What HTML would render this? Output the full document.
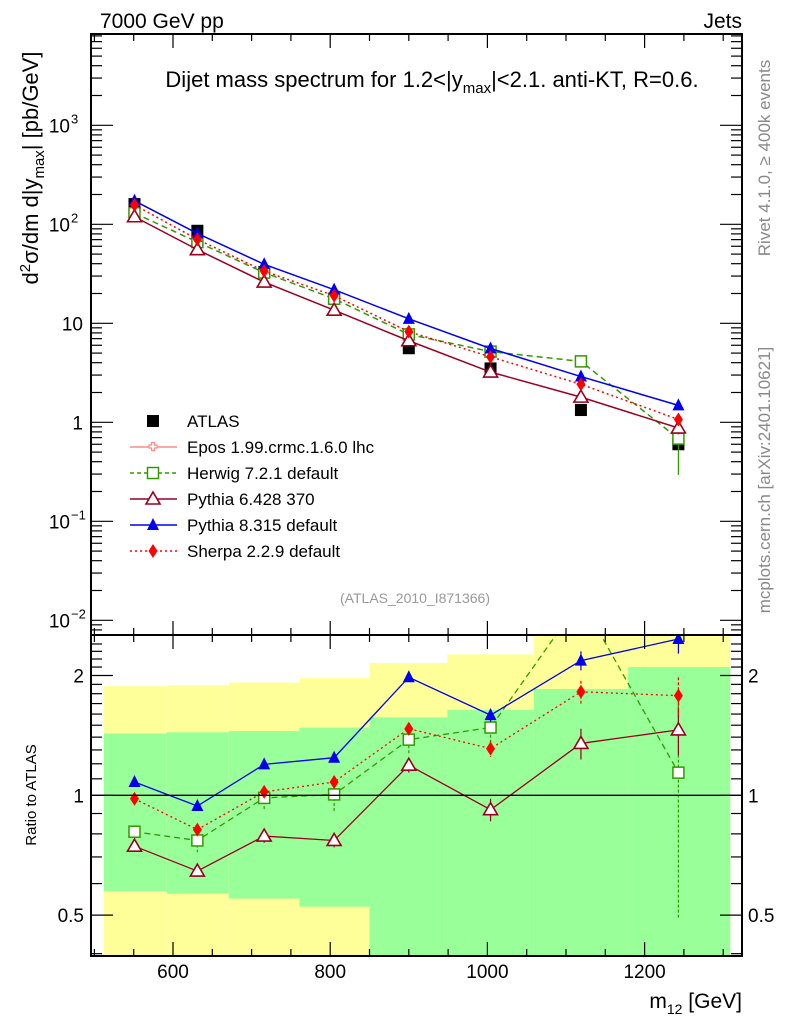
<!DOCTYPE html>
<html><head><meta charset="utf-8"><style>
html,body{margin:0;padding:0;background:#fff}
svg{display:block;font-family:"Liberation Sans",sans-serif}
</style></head><body>
<svg id="c" width="786" height="1024" viewBox="0 0 786 1024" xmlns="http://www.w3.org/2000/svg">
<text x="100" y="28" font-size="21">7000 GeV pp</text>
<text x="742" y="28" font-size="21" text-anchor="end">Jets</text>
<text x="432" y="87" font-size="22" text-anchor="middle">Dijet mass spectrum for 1.2&lt;|y<tspan font-size="15" dy="6">max</tspan><tspan dy="-6">|&lt;2.1.  anti-KT, R=0.6.</tspan></text>
<text transform="translate(38,168) rotate(-90)" font-size="22" text-anchor="middle">d<tspan font-size="15" dy="-8">2</tspan><tspan dy="8">σ/dm d|y</tspan><tspan font-size="15" dy="6">max</tspan><tspan dy="-6">| [pb/GeV]</tspan></text>
<text transform="translate(770,158) rotate(-90)" font-size="17" fill="#888" text-anchor="middle">Rivet 4.1.0, ≥ 400k events</text>
<text transform="translate(770,480) rotate(-90)" font-size="17" fill="#888" text-anchor="middle">mcplots.cern.ch [arXiv:2401.10621]</text>
<text x="415" y="603" font-size="14" fill="#999" text-anchor="middle">(ATLAS_2010_I871366)</text>
<text transform="translate(36,795) rotate(-90)" font-size="15" text-anchor="middle">Ratio to ATLAS</text>
<text x="742" y="1008" font-size="21" text-anchor="end">m<tspan font-size="14" dy="6">12</tspan><tspan dy="-6"> [GeV]</tspan></text>
<g id="bands"></g><g id="grid"></g><g id="series"></g><g id="axes"></g><g id="legend"></g>
</svg>
<script>
const masses=[551,631,716,805,900,1004,1119,1243];
const binEdges=[512,592,671,761,850,949,1059,1179,1309];
const atlas=[160,86,33,17.6,5.6,3.5,1.33,0.60];
const ratioHerwig=[0.81,0.77,0.985,1.005,1.38,1.48,3.1,1.14];
const ratioPythia6=[0.745,0.645,0.79,0.77,1.19,0.92,1.35,1.46];
const ratioPythia8=[1.08,0.94,1.196,1.243,1.98,1.59,2.18,2.47];
const ratioSherpa=[0.98,0.82,1.02,1.08,1.47,1.31,1.82,1.78];
const errHerwig=[0.03,0.05,0.07,0.1,0.12,0.16,0.4,0.65];
const errOther=[0.02,0.02,0.03,0.03,0.05,0.06,0.12,0.2];
const greenHi=[1.43,1.44,1.45,1.48,1.57,1.64,1.85,2.1];
const greenLo=[0.574,0.566,0.55,0.525,0.3,0.3,0.3,0.3];
const yellowHi=[1.88,1.89,1.92,1.97,2.15,2.26,3,3];
const yellowLo=[0.3,0.3,0.3,0.3,0.43,0.3,0.3,0.3];
const xTicks=[600,800,1000,1200];
const ratioTicks=[0.5,1,2];

const NS="http://www.w3.org/2000/svg";
const L=91,R=742,T=34,MB=635,RB=956;
const X=m=>173+(m-600)*0.786;
const Y=v=>422.3-99*Math.log10(v);
const RY=r=>795.3-398*Math.log10(r);
function mk(p,tag,a){const e=document.createElementNS(NS,tag);for(const k in a)e.setAttribute(k,a[k]);p.appendChild(e);return e;}
const gB=document.getElementById('bands'),gS=document.getElementById('series'),gA=document.getElementById('axes'),gL=document.getElementById('legend');
const clampR=r=>Math.min(Math.max(RY(r),MB),RB);
for(let i=0;i<masses.length;i++){
  const x0=X(binEdges[i]),x1=X(binEdges[i+1]);
  let e=mk(gB,'rect',{x:x0,y:clampR(yellowHi[i]),width:x1-x0,height:clampR(yellowLo[i])-clampR(yellowHi[i]),fill:'#ffff99'});
  
  
  e=mk(gB,'rect',{x:x0,y:clampR(greenHi[i]),width:x1-x0,height:clampR(greenLo[i])-clampR(greenHi[i]),fill:'#99ff99'});
  
  
}
const cp=mk(document.getElementById('c'),'defs',{});
const c1=mk(cp,'clipPath',{id:'cm'});mk(c1,'rect',{x:L,y:T,width:R-L,height:MB-T});
const c2=mk(cp,'clipPath',{id:'cr'});mk(c2,'rect',{x:L,y:MB,width:R-L,height:RB-MB});
function marker(g,type,x,y,col){
  if(type==='sq')return mk(g,'rect',{x:x-6,y:y-6,width:12,height:12,fill:'#000'});
  if(type==='osq')return mk(g,'rect',{x:x-5.5,y:y-5.5,width:11,height:11,fill:'#fff',stroke:col,'stroke-width':1.5});
  if(type==='otri')return mk(g,'path',{d:`M${x} ${y-7}L${x+7} ${y+5}L${x-7} ${y+5}Z`,fill:'#fff',stroke:col,'stroke-width':1.6});
  if(type==='tri')return mk(g,'path',{d:`M${x} ${y-7}L${x+6} ${y+5}L${x-6} ${y+5}Z`,fill:col});
  if(type==='dia')return mk(g,'path',{d:`M${x} ${y-7}L${x+4.5} ${y}L${x} ${y+7}L${x-4.5} ${y}Z`,fill:col});
  if(type==='cross')return mk(g,'path',{d:`M${x-4} ${y-2}h2.5v-2.5h3v2.5h2.5v3h-2.5v2.5h-3v-2.5h-2.5Z`,fill:'#fff',stroke:col,'stroke-width':1.2});
}
const series=[
 {name:'herwig',r:ratioHerwig,col:'#339900',dash:'6,4',m:'osq',err:errHerwig},
 {name:'pythia6',r:ratioPythia6,col:'#990022',dash:'',m:'otri',err:errOther},
 {name:'pythia8',r:ratioPythia8,col:'#0000ee',dash:'',m:'tri',err:errOther},
 {name:'sherpa',r:ratioSherpa,col:'#ff0000',dash:'2,3',m:'dia',err:errOther}];
const ga=mk(gS,'g',{'clip-path':'url(#cm)'});


masses.forEach((m,i)=>{const e=marker(ga,'sq',X(m),Y(atlas[i]));});
series.forEach(s=>{
  const gm=mk(gS,'g',{'clip-path':'url(#cm)'});
  
  
  const gr=mk(gS,'g',{'clip-path':'url(#cr)'});
  
  
  const pm=masses.map((m,i)=>X(m)+','+Y(atlas[i]*s.r[i])).join(' ');
  const pr=masses.map((m,i)=>X(m)+','+RY(s.r[i])).join(' ');
  mk(gm,'polyline',{points:pm,fill:'none',stroke:s.col,'stroke-width':1.5,'stroke-dasharray':s.dash});
  mk(gr,'polyline',{points:pr,fill:'none',stroke:s.col,'stroke-width':1.3,'stroke-dasharray':s.dash});
  masses.forEach((m,i)=>{
    const x=X(m),r=s.r[i],er=s.err[i];
    mk(gr,'line',{x1:x,x2:x,y1:RY(r+er),y2:RY(Math.max(r-er,0.3)),stroke:s.col,'stroke-width':1.2,'stroke-dasharray':s.dash?'3,2':''});
    mk(gm,'line',{x1:x,x2:x,y1:Y(atlas[i]*(r+er)),y2:Y(atlas[i]*Math.max(r-er,0.3)),stroke:s.col,'stroke-width':1.2});
    let e=marker(gm,s.m,x,Y(atlas[i]*r),s.col);
    e=marker(gr,s.m,x,RY(r),s.col);
  });
});
mk(gA,'line',{x1:L,x2:R,y1:RY(1),y2:RY(1),stroke:'#000','stroke-width':1.3});
mk(gA,'rect',{x:L,y:T,width:R-L,height:MB-T,fill:'none',stroke:'#000','stroke-width':2});
mk(gA,'rect',{x:L,y:MB,width:R-L,height:RB-MB,fill:'none',stroke:'#000','stroke-width':2});
for(let m=500;m<=1320;m+=50){const x=X(m),big=m%200===0,len=big?14:7;
  [[T,1],[MB,-1],[MB,1],[RB,-1]].forEach(([y,d])=>mk(gA,'line',{x1:x,x2:x,y1:y,y2:y+d*len,stroke:'#000','stroke-width':1.2}));}
xTicks.forEach(m=>{const t=mk(gA,'text',{x:X(m),y:978,'font-size':19,'text-anchor':'middle'});t.textContent=m;});
for(let d=-3;d<=3;d++)for(let k=1;k<10;k++){const v=k*Math.pow(10,d),y=Y(v);if(y<T||y>MB)continue;const len=k===1?22:11;
  mk(gA,'line',{x1:L,x2:L+len,y1:y,y2:y,stroke:'#000','stroke-width':1.2});mk(gA,'line',{x1:R,x2:R-len,y1:y,y2:y,stroke:'#000','stroke-width':1.2});}
[[-2,'10','−2'],[-1,'10','−1'],[0,'1',''],[1,'10',''],[2,'10','2'],[3,'10','3']].forEach(([d,b,s])=>{
  const t=mk(gA,'text',{x:s?70:83,y:Y(Math.pow(10,d))+7,'font-size':19,'text-anchor':'end'});t.textContent=b;
  
  if(s){const u=mk(gA,'text',{x:71,y:Y(Math.pow(10,d))-2,'font-size':13});u.textContent=s;}});
for(let r=0.4;r<=2.5;r+=0.1){const y=RY(r);if(y<MB||y>RB)continue;const big=[0.5,1,2].some(v=>Math.abs(v-r)<1e-6),len=big?22:11;
  mk(gA,'line',{x1:L,x2:L+len,y1:y,y2:y,stroke:'#000','stroke-width':1.2});mk(gA,'line',{x1:R,x2:R-len,y1:y,y2:y,stroke:'#000','stroke-width':1.2});}
ratioTicks.forEach(r=>{[[84,'end'],[748,'start']].forEach(([x,a])=>{const t=mk(gA,'text',{x:x,y:RY(r)+7,'font-size':19,'text-anchor':a});t.textContent=r;});});
const leg=[['ATLAS','sq','#000',''],['Epos 1.99.crmc.1.6.0 lhc','cross','#ff8888',''],['Herwig 7.2.1 default','osq','#339900','4,3'],['Pythia 6.428 370','otri','#990022',''],['Pythia 8.315 default','tri','#0000ee',''],['Sherpa 2.2.9 default','dia','#ff0000','2,3']];
leg.forEach((l,i)=>{const y=421+i*26;const g=mk(gL,'g',{});
  
  
  if(i>0)mk(g,'line',{x1:130,x2:177,y1:y,y2:y,stroke:l[2],'stroke-width':1.5,'stroke-dasharray':l[3]});
  marker(g,l[1],153,y,l[2]);
  const t=mk(g,'text',{x:187,y:y+6,'font-size':17});t.textContent=l[0];});
</script>
</body></html>
